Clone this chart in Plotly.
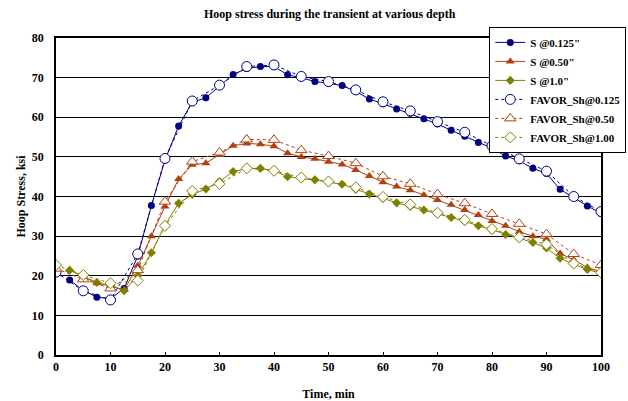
import plotly.graph_objects as go

# Time points
t_s = [2.5, 5, 7.5, 10, 12.5, 15, 17.5, 20, 22.5, 25, 27.5, 30, 32.5, 35, 37.5, 40,
       42.5, 45, 47.5, 50, 52.5, 55, 57.5, 60, 62.5, 65, 67.5, 70, 72.5, 75, 77.5,
       80, 82.5, 85, 87.5, 90, 92.5, 95, 97.5, 100]
t_f = [0, 5, 10, 15, 20, 25, 30, 35, 40, 45, 50, 55, 60, 65, 70, 75, 80, 85, 90, 95, 100]

# S series (solid lines)
s_0125 = [18.9, 16.3, 14.6, 14.2, 16.8, 25.0, 37.7, 49.2, 57.8, 63.8, 64.9, 67.8, 70.8, 72.3,
          72.8, 72.8, 70.7, 70.0, 69.0, 68.6, 68.0, 66.5, 64.6, 63.4, 62.1, 61.0, 59.6, 58.3,
          56.7, 55.2, 53.6, 52.2, 50.2, 49.0, 47.1, 45.8, 41.8, 39.7, 37.6, 35.8]
s_050 = [21.5, 19.8, 18.1, 17.5, 16.4, 22.5, 30.0, 37.5, 44.4, 48.0, 48.4, 50.5, 52.8, 53.4,
         53.2, 52.7, 50.9, 50.0, 49.5, 48.8, 48.1, 46.7, 45.2, 43.6, 42.5, 41.6, 40.4, 39.1,
         37.9, 36.6, 35.3, 33.8, 32.6, 31.1, 30.0, 29.2, 25.6, 24.0, 22.1, 21.0]
s_100 = [21.4, 19.9, 18.3, 17.5, 16.2, 20.0, 25.8, 32.8, 38.3, 40.5, 41.9, 43.8, 46.3, 47.0,
         47.1, 46.5, 45.0, 44.5, 44.2, 43.6, 43.1, 41.8, 40.6, 39.5, 38.4, 37.5, 36.6, 35.6,
         34.7, 33.7, 32.6, 31.5, 30.4, 29.4, 28.4, 27.0, 24.4, 22.9, 21.6, 20.6]

# FAVOR series (dotted lines, open markers)
f_0125 = [20.9, 16.2, 13.9, 25.5, 49.6, 64.1, 68.1, 72.8, 73.2, 70.3, 69.0, 66.9, 63.9, 61.6,
          58.9, 56.2, 52.8, 49.5, 46.4, 40.0, 36.2]
f_050 = [21.8, 19.1, 16.8, 21.4, 38.7, 48.8, 51.1, 54.4, 54.3, 51.7, 50.2, 48.4, 45.1, 43.2,
         40.6, 38.3, 35.6, 33.1, 30.5, 25.5, 22.7]
f_100 = [22.7, 20.2, 18.1, 18.8, 32.6, 41.4, 43.2, 47.1, 46.5, 44.8, 43.8, 42.3, 39.9, 38.0,
         35.9, 34.1, 31.8, 29.7, 27.9, 23.1, 20.8]

BLUE = "#000080"
ORANGE = "#B04010"
OLIVE = "#808000"
FONT = "Liberation Serif"

fig = go.Figure()

fig.add_trace(go.Scatter(x=t_s, y=s_0125, name='S @0.125"', mode="lines+markers",
                         line=dict(color=BLUE, width=1),
                         marker=dict(symbol="circle", size=7, color=BLUE)))
fig.add_trace(go.Scatter(x=t_s, y=s_050, name='S @0.50"', mode="lines+markers",
                         line=dict(color=ORANGE, width=1),
                         marker=dict(symbol="triangle-up", size=8, color=ORANGE)))
fig.add_trace(go.Scatter(x=t_s, y=s_100, name='S @1.0"', mode="lines+markers",
                         line=dict(color=OLIVE, width=1),
                         marker=dict(symbol="diamond", size=7, color=OLIVE)))
fig.add_trace(go.Scatter(x=t_f, y=f_0125, name="FAVOR_Sh@0.125", mode="lines+markers",
                         line=dict(color=BLUE, width=1, dash="dot"),
                         marker=dict(symbol="circle", size=10, color="white",
                                     line=dict(color=BLUE, width=1))))
fig.add_trace(go.Scatter(x=t_f, y=f_050, name="FAVOR_Sh@0.50", mode="lines+markers",
                         line=dict(color=ORANGE, width=1, dash="dot"),
                         marker=dict(symbol="triangle-up", size=10, color="white",
                                     line=dict(color=ORANGE, width=1))))
fig.add_trace(go.Scatter(x=t_f, y=f_100, name="FAVOR_Sh@1.00", mode="lines+markers",
                         line=dict(color=OLIVE, width=1, dash="dot"),
                         marker=dict(symbol="diamond", size=8.5, color="white",
                                     line=dict(color=OLIVE, width=1))))

fig.update_layout(
    width=628, height=401,
    margin=dict(l=56, r=27, t=38, b=46, autoexpand=False),
    paper_bgcolor="white", plot_bgcolor="white",
    font=dict(family=FONT, size=12, color="black"),
    title=dict(text="<b>Hoop stress during the transient at various depth</b>",
               x=0.525, xanchor="center", y=0.965, yanchor="middle",
               font=dict(family=FONT, size=12, color="black")),
    xaxis=dict(range=[0, 100], dtick=10, tick0=0, showgrid=False, zeroline=False,
               ticks="inside", ticklen=3, tickcolor="black",
               showline=True, linecolor="black", linewidth=1.5, mirror=True,
               tickfont=dict(family=FONT, size=12, weight="bold"),
               title=dict(text="<b>Time, min</b>", standoff=16,
                          font=dict(family=FONT, size=12))),
    yaxis=dict(range=[0, 80], dtick=10, tick0=0, showgrid=True, gridcolor="black",
               gridwidth=1, zeroline=False, ticks="", ticklabelstandoff=8,
               showline=True, linecolor="black", linewidth=1.5, mirror=True,
               tickfont=dict(family=FONT, size=12, weight="bold"),
               title=dict(text="<b>Hoop Stress, ksi</b>", standoff=4,
                          font=dict(family=FONT, size=12))),
    legend=dict(x=0.795, y=1.035, xanchor="left", yanchor="top",
                bgcolor="white", bordercolor="black", borderwidth=1,
                font=dict(family=FONT, size=11, weight="bold"),
                tracegroupgap=0),
    showlegend=True,
)

fig.write_html("out.html")
